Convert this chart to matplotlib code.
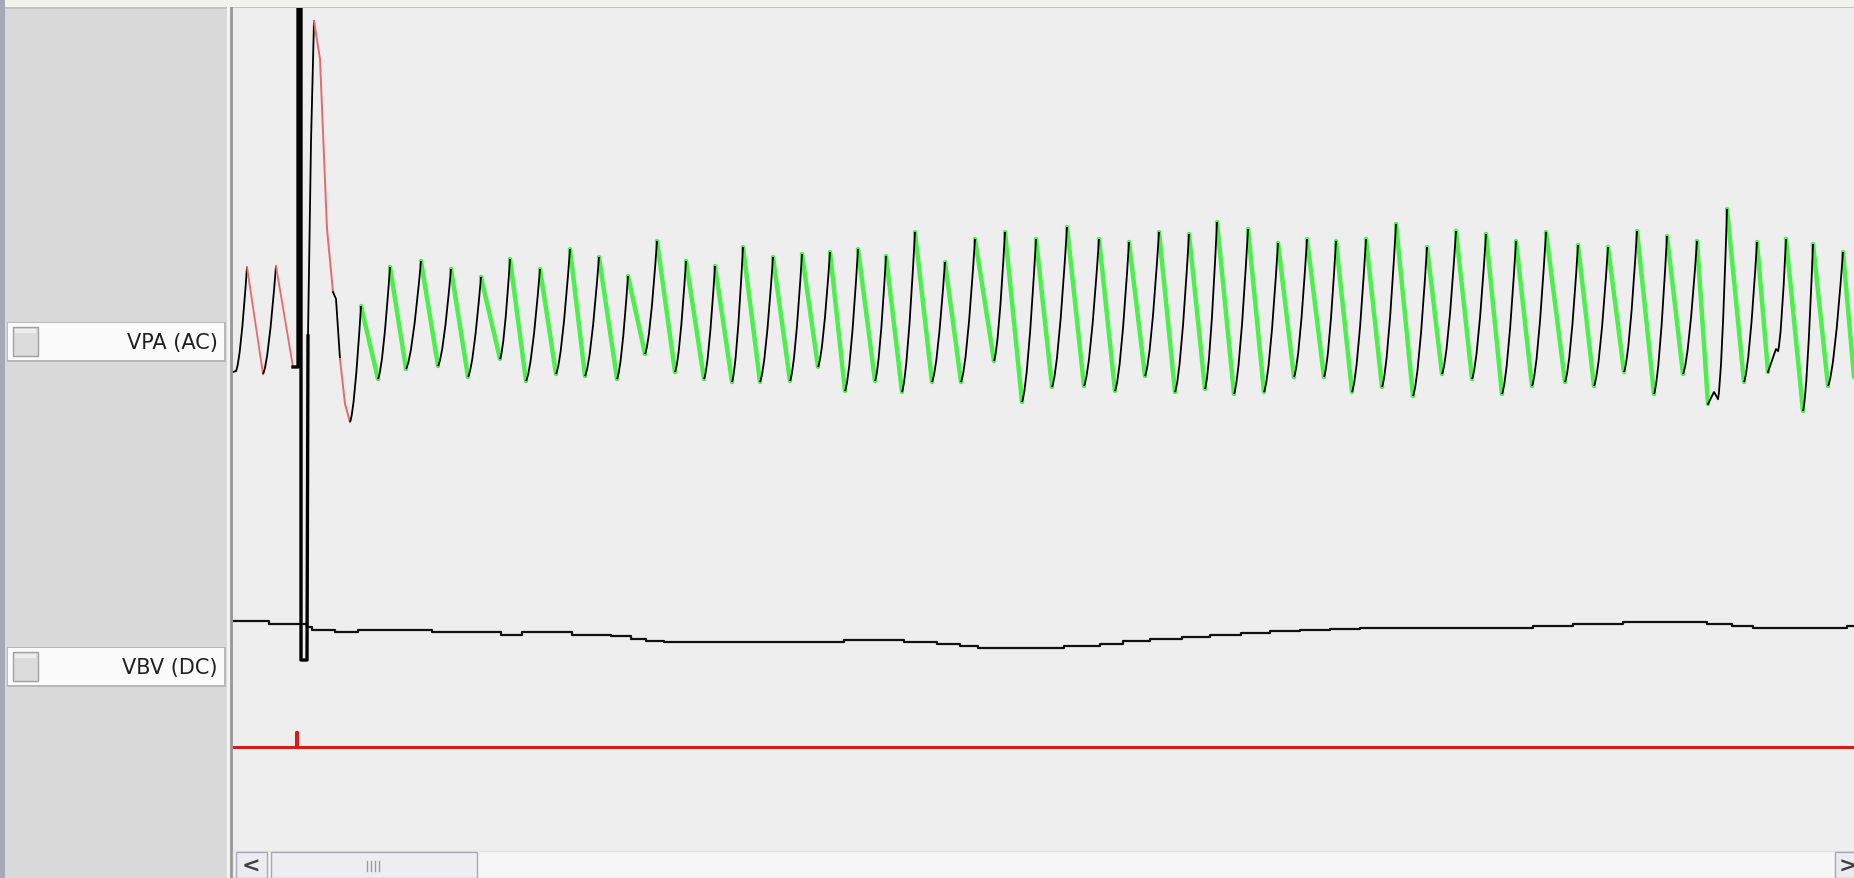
#!/usr/bin/env python3

import matplotlib
matplotlib.use('Agg')
import matplotlib.pyplot as plt
from matplotlib.patches import Rectangle, PathPatch
from matplotlib.path import Path

W, H = 1854, 879

# VPA (AC) channel, screen samples
pre_t = [233, 236, 247, 263, 276, 293]
pre_y = [373, 372, 268, 375, 267, 368]

# pacing artefact that runs off the top of the view
art_t = [293, 298, 298, 301, 301, 307, 308]
art_y = [368, 368, -20, -20, 661, 661, 337]

# first big beat after the artefact
big_rise_t = [308, 311, 314]
big_rise_y = [337, 143, 22]
big_fall_t = [314, 320, 327, 333]
big_fall_y = [22, 60, 230, 293]
big_mid_t = [333, 336, 340]
big_mid_y = [293, 300, 360]
big_end_t = [340, 345, 350]
big_end_y = [360, 405, 423]

peak_t = [361, 390, 421, 451, 481, 510, 540, 570, 599, 628, 657, 686, 715, 743,
          773, 802, 830, 858, 886, 915, 945, 975, 1005, 1036, 1067, 1099, 1129,
          1159, 1189, 1217, 1248, 1278, 1307, 1336, 1366, 1396, 1427, 1456, 1486,
          1516, 1546, 1578, 1608, 1637, 1667, 1697, 1727, 1757, 1786, 1813, 1843]
peak_y = [307, 268, 262, 270, 278, 260, 270, 250, 258, 277, 242, 262, 267, 248,
          258, 255, 253, 250, 257, 233, 263, 240, 233, 240, 228, 240, 243,
          233, 235, 223, 230, 244, 240, 242, 240, 225, 248, 232, 235,
          242, 233, 246, 248, 232, 237, 242, 210, 243, 240, 245, 253]
trough_t = [378, 406, 438, 468, 500, 526, 556, 585, 617, 645, 675, 704, 732, 760,
            790, 818, 845, 875, 902, 932, 961, 994, 1022, 1052, 1084, 1115, 1145,
            1175, 1205, 1234, 1264, 1294, 1324, 1352, 1382, 1413, 1442, 1472, 1502,
            1532, 1565, 1594, 1624, 1654, 1683, 1708, 1744, 1768, 1803, 1828, 1854]
trough_y = [380, 370, 367, 378, 360, 382, 375, 377, 380, 355, 373, 380, 383, 383,
            382, 368, 392, 382, 393, 383, 383, 362, 403, 388, 387, 392, 377,
            393, 390, 395, 393, 378, 378, 393, 388, 397, 375, 380, 395,
            387, 383, 387, 373, 395, 375, 405, 383, 373, 412, 387, 378]
# small notches at the foot of some upstrokes (beat index -> extra points)
notch = {46: ([1714, 1718], [393, 400]), 48: ([1776, 1778], [350, 352])}

# VBV (DC) channel, stepped
vbv_t = [233, 269, 307, 312, 322, 335, 358, 432, 501, 522, 572, 611, 631, 646,
         664, 844, 904, 937, 960, 978, 1064, 1100, 1123, 1150, 1182, 1210, 1241,
         1270, 1300, 1330, 1360, 1533, 1573, 1623, 1707, 1732, 1753, 1847, 1854]
vbv_y = [622, 625, 628, 631, 631, 633, 631, 633, 636, 633, 636, 637, 640, 642,
         643, 641, 643, 645, 647, 649, 647, 645, 642, 640, 638, 636, 634,
         632, 631, 630, 629, 627, 625, 623, 625, 627, 629, 627, 627]

# stimulus channel
stim_t = [233, 296, 296, 297, 297, 1854]
stim_y = [748, 748, 733, 733, 748, 748]

labels = ['VPA (AC)', 'VBV (DC)']
label_rows = [323, 648]

GREEN = '#4cf04c'
PALE_RED = '#e86a6a'


def draw_chrome(fig):
    ui = fig.add_axes([0, 0, 1, 1])
    ui.set_xlim(0, W)
    ui.set_ylim(H, 0)
    ui.axis('off')

    ui.add_patch(Rectangle((0, 0), W, 8, color='#f3f3ee', lw=0))
    ui.add_patch(Rectangle((0, 0), 5, H, color='#a6a8b6', lw=0))
    ui.add_patch(Rectangle((5, 8), 223, H - 8, color='#d9d9d9', lw=0))
    ui.add_patch(Rectangle((5, 8), W, 1.5, color='#c4c4c4', lw=0))
    ui.add_patch(Rectangle((227, 8), 3, H, color='#f4f4f4', lw=0))
    ui.add_patch(Rectangle((230, 8), 3, H, color='#9c9c9c', lw=0))

    for lab, top in zip(labels, label_rows):
        ui.add_patch(Rectangle((7, top), 219, 40, facecolor='#b8b8b8', lw=0))
        ui.add_patch(Rectangle((8, top + 1), 216, 37, facecolor='#fbfbfb', lw=0))
        ui.add_patch(Rectangle((13, top + 5), 25, 29, facecolor='#dcdcdc',
                               edgecolor='#a0a0a0', lw=1))
        ui.add_patch(Rectangle((15, top + 7), 21, 4, facecolor='#eeeeee', lw=0))
        ui.text(218, top + 20, lab, ha='right', va='center', fontsize=15,
                family='DejaVu Sans', color='#202020')

    # scrollbar
    ui.add_patch(Rectangle((233, 852), W - 233, 27, facecolor='#f6f6f6',
                           edgecolor='#e2e2e2', lw=1))
    ui.add_patch(Rectangle((236, 853), 31, 26, facecolor='#ececf0',
                           edgecolor='#a8a8b4', lw=1))
    ui.text(251, 867, '<', ha='center', va='center', fontsize=16,
            fontweight='bold', color='#404040')
    ui.add_patch(Rectangle((271, 853), 206, 26, facecolor='#eeeef2',
                           edgecolor='#a8a8b4', lw=1))
    for gx in [367, 371, 375, 379]:
        ui.plot([gx, gx], [862, 872], color='#9a9aa4', lw=1)
    ui.add_patch(Rectangle((1835, 853), 25, 26, facecolor='#ececf0',
                           edgecolor='#a8a8b4', lw=1))
    ui.text(1848, 867, '>', ha='center', va='center', fontsize=16,
            fontweight='bold', color='#404040')


def upstroke(ax, t0, y0, t1, y1):
    # systolic upstroke drawn as a curve: short foot, steep near the peak
    c = (t0 + 0.4 * (t1 - t0), y0 - 0.08 * (y0 - y1))
    p = Path([(t0, y0), c, (t1, y1)], [Path.MOVETO, Path.CURVE3, Path.CURVE3])
    ax.add_patch(PathPatch(p, fill=False, edgecolor='black', lw=1.3, zorder=4))


def draw_traces(fig):
    ax = fig.add_axes([233 / W, (H - 851) / H, (W - 233) / W, (851 - 8.5) / H])
    ax.set_facecolor('#eeeeee')
    ax.set_xlim(233, W)
    ax.set_ylim(851, 8.5)
    ax.set_xticks([])
    ax.set_yticks([])
    for s in ax.spines.values():
        s.set_visible(False)

    # stimulus + VBV
    ax.plot(stim_t, stim_y, color='#d41c1c', lw=2.2, zorder=2)
    ax.plot(vbv_t, vbv_y, color='#101010', lw=1.6, drawstyle='steps-post', zorder=3)

    # pre-artefact beats: black upstroke, pale red downstroke
    for i in range(len(pre_t) - 1):
        if pre_y[i + 1] > pre_y[i] and i > 0:
            ax.plot(pre_t[i:i + 2], pre_y[i:i + 2], color=PALE_RED, lw=1.3, zorder=4)
        elif pre_y[i + 1] < pre_y[i] - 20:
            upstroke(ax, pre_t[i], pre_y[i], pre_t[i + 1], pre_y[i + 1])
        else:
            ax.plot(pre_t[i:i + 2], pre_y[i:i + 2], color='black', lw=1.3, zorder=4)
    ax.plot(art_t, art_y, color='black', lw=2.4, zorder=5)

    ax.plot(big_rise_t, big_rise_y, color='black', lw=1.3, zorder=4)
    ax.plot(big_fall_t, big_fall_y, color=PALE_RED, lw=1.4, zorder=4)
    ax.plot(big_mid_t, big_mid_y, color='black', lw=1.3, zorder=4)
    ax.plot(big_end_t, big_end_y, color=PALE_RED, lw=1.4, zorder=4)

    # detected beats: black upstroke, green downstroke
    prev_t, prev_y = big_end_t[-1], big_end_y[-1]
    for i in range(len(peak_t)):
        if i in notch:
            ax.plot([prev_t] + notch[i][0], [prev_y] + notch[i][1],
                    color='black', lw=1.3, zorder=4)
            prev_t, prev_y = notch[i][0][-1], notch[i][1][-1]
        upstroke(ax, prev_t, prev_y, peak_t[i], peak_y[i])
        ax.plot([peak_t[i], trough_t[i]], [peak_y[i], trough_y[i]],
                color=GREEN, lw=3.2, solid_capstyle='round', zorder=3)
        prev_t, prev_y = trough_t[i], trough_y[i]
    return ax


def main():
    fig = plt.figure(figsize=(W / 100, H / 100), dpi=100)
    fig.patch.set_facecolor('#eeeeee')
    draw_chrome(fig)
    draw_traces(fig)
    fig.savefig('out.png', dpi=100)


if __name__ == "__main__":
    main()
